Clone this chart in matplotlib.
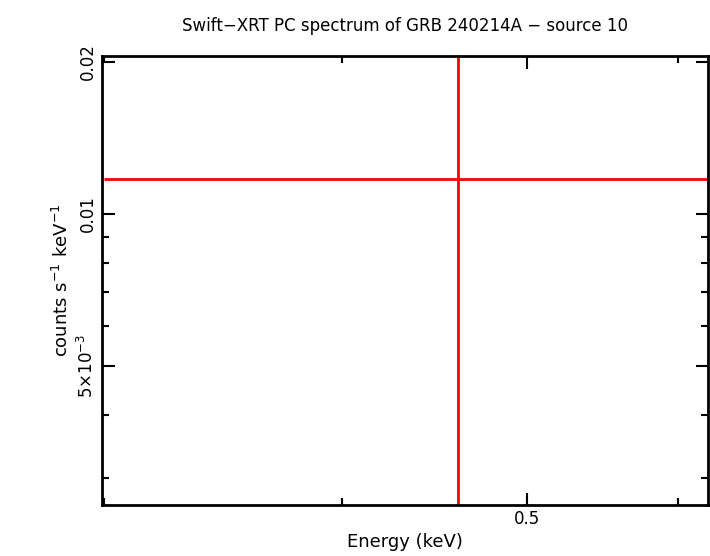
import matplotlib
matplotlib.use('Agg')
import matplotlib.pyplot as plt
from matplotlib.ticker import FixedLocator, NullFormatter, FixedFormatter

# spectrum data (one bin)
energy = [0.46]
energy_lo = [0.16]
energy_hi = [0.25]
rate = [0.01173]
rate_err = [0.012]

fig = plt.figure(figsize=(7.1, 5.56), dpi=100)
ax = fig.add_axes([0.1437, 0.0917, 0.8535, 0.8076])
ax.set_xscale('log')
ax.set_yscale('log')
ax.errorbar(energy, rate, xerr=[energy_lo, energy_hi], yerr=[[0.0115], rate_err],
            fmt='none', ecolor='red', elinewidth=2, capsize=0)
ax.set_xlim(0.2994, 0.622)
ax.set_ylim(0.00265, 0.02055)

ax.xaxis.set_major_locator(FixedLocator([0.5]))
ax.xaxis.set_major_formatter(FixedFormatter(['0.5']))
ax.xaxis.set_minor_locator(FixedLocator([0.3, 0.4, 0.6]))
ax.xaxis.set_minor_formatter(NullFormatter())
ax.yaxis.set_major_locator(FixedLocator([0.005, 0.01, 0.02]))
ax.yaxis.set_major_formatter(FixedFormatter(['5×10$^{-3}$', '0.01', '0.02']))
ax.yaxis.set_minor_locator(FixedLocator([0.003, 0.004, 0.006, 0.007, 0.008, 0.009]))
ax.yaxis.set_minor_formatter(NullFormatter())
ax.tick_params(which='both', direction='in', top=True, right=True, labelsize=12)
ax.tick_params(which='major', length=9, width=1.5)
ax.tick_params(which='minor', length=5, width=1.5)
for lab in ax.get_yticklabels():
    lab.set_rotation(90)
    lab.set_va('center')
for s in ax.spines.values():
    s.set_linewidth(2)

ax.set_xlabel('Energy (keV)', fontsize=13, labelpad=4)
ax.set_ylabel('counts s$^{-1}$ keV$^{-1}$', fontsize=13)
ax.set_title('Swift\u2212XRT PC spectrum of GRB 240214A \u2212 source 10', fontsize=12, pad=18)
fig.savefig('out.png')
